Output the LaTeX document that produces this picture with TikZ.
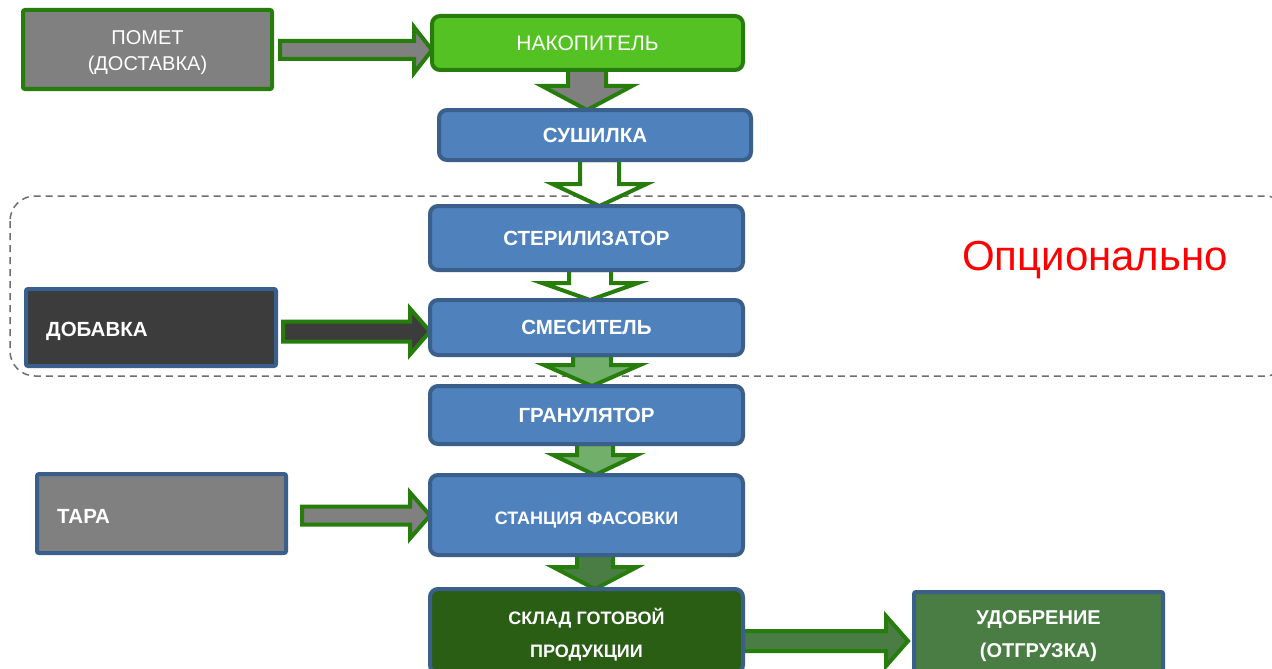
\documentclass[tikz,border=0pt]{standalone}
\usepackage{fontspec}
\setmainfont{Liberation Sans}
\usetikzlibrary{calc,backgrounds}
\definecolor{agreen}{HTML}{277D0B}
\definecolor{lgreen}{HTML}{55C223}
\definecolor{bfill}{HTML}{4F81BD}
\definecolor{bline}{HTML}{3A5F8B}
\definecolor{gfill}{HTML}{808080}
\definecolor{dfill}{HTML}{3C3C3C}
\definecolor{pgreen}{HTML}{72AF6B}
\definecolor{mgreen}{HTML}{4A7D44}
\definecolor{sgreen}{HTML}{2B5E15}
\definecolor{dgray}{HTML}{6E6E6E}
\tikzset{
  box/.style={draw=bline, line width=4pt, rounded corners=2pt, minimum width=249pt,
    inner sep=0pt, outer sep=0pt, text=white, align=center,
    font=\fontsize{20}{24}\selectfont\bfseries},
  proc/.style={box, fill=bfill, rounded corners=8pt, minimum width=313pt,
    font=\fontsize{20.5}{24}\selectfont\bfseries},
  lbl/.style={anchor=west, inner sep=0pt, text=white, font=\fontsize{20.5}{24}\selectfont\bfseries},
  blockarrow/.style={draw=agreen, line width=4pt, line join=miter},
  optframe/.style={draw=dgray, line width=1.5pt, dash pattern=on 7pt off 5pt, rounded corners=25pt}
}
% vertical block arrow: dx, from, to, fill, shaft half, head half, head length
\newcommand\varrow[7]{%
  \coordinate (vs) at ($(#2.south)+(#1,0)$);
  \coordinate (vt) at (vs |- #3.north);
  \draw[blockarrow,fill=#4] ($(vs)+(-#5,0)$) -- ($(vt)+(-#5,-#7)$) -- ($(vt)+(-#6,-#7)$)
    -- (vt) -- ($(vt)+(#6,-#7)$) -- ($(vt)+(#5,-#7)$) -- ($(vs)+(#5,0)$) -- cycle;}
% horizontal block arrow: start, target, fill, shaft half, head half, head length, gap
\newcommand\harrow[7]{%
  \coordinate (hs) at #1;
  \coordinate (ht) at ($(#2.west |- hs)+(-#7,0)$);
  \draw[blockarrow,fill=#3] ($(hs)+(0,-#4)$) -- ($(ht)+(-#6,-#4)$) -- ($(ht)+(-#6,-#5)$)
    -- (ht) -- ($(ht)+(-#6,#5)$) -- ($(ht)+(-#6,#4)$) -- ($(hs)+(0,#4)$) -- cycle;}
\newcommand\lowered[2]{\raisebox{-#1}[\height][\depth]{\parbox{220pt}{\centering #2}}}
\begin{document}
\begin{tikzpicture}[x=1pt,y=-1pt]
\useasboundingbox (0,0) rectangle (1272,669);

% nodes
\node[box, draw=agreen, fill=gfill, minimum height=79pt,
      font=\fontsize{20}{26}\selectfont] (pomet) at (147.5,49.5) {\lowered{3pt}{ПОМЕТ\\(ДОСТАВКА)}};
\node[proc, draw=agreen, fill=lgreen, minimum width=311pt, minimum height=54pt,
      font=\fontsize{21}{25}\selectfont] (nakop) at (587.5,43) {НАКОПИТЕЛЬ};
\node[proc, minimum width=312pt, minimum height=50pt] (sush) at (595,135) {СУШИЛКА};
\node[proc, minimum height=64pt] (steril) at (586.5,238) {СТЕРИЛИЗАТОР};
\node[proc, minimum height=55pt] (smes) at (586.5,327.5) {СМЕСИТЕЛЬ};
\node[proc, minimum height=58pt] (gran) at (586.5,415) {ГРАНУЛЯТОР};
\node[proc, minimum height=80pt, font=\fontsize{18}{22}\selectfont\bfseries] (stanc) at (586.5,515) {\lowered{5pt}{СТАНЦИЯ ФАСОВКИ}};
\node[proc, fill=sgreen, minimum height=84pt, font=\fontsize{18}{33}\selectfont\bfseries] (sklad) at (586.5,631) {\lowered{4pt}{СКЛАД ГОТОВОЙ\\ПРОДУКЦИИ}};
\node[box, fill=mgreen, minimum height=88pt, font=\fontsize{20}{33}\selectfont\bfseries] (udobr) at (1038.5,636) {УДОБРЕНИЕ\\(ОТГРУЗКА)};
\node[box, fill=dfill, minimum width=250pt, minimum height=77pt] (dobavka) at (151,327.5) {};
\node[lbl] (dobavkat) at ($(dobavka.west)+(20,4)$) {ДОБАВКА};
\node[box, fill=gfill, minimum height=79pt] (tara) at (161.5,513.5) {};
\node[lbl] (tarat) at ($(tara.west)+(20,2.5)$) {ТАРА};
\node[anchor=base, inner sep=0pt, text=red, font=\fontsize{42}{50}\selectfont] (opt) at (1095,270) {Опционально};

\begin{scope}[on background layer]
  \fill[white] (0,0) rectangle (1272,669);
  \draw[optframe] (10,196) rectangle (1290,376);
  \varrow{-0.5}{nakop}{sush}{gfill}{19}{45}{24}
  \varrow{4.5}{sush}{steril}{white}{19.5}{47}{22}
  \varrow{3.5}{steril}{smes}{white}{21}{48}{17}
  \varrow{5.5}{smes}{gran}{pgreen}{19}{48}{21}
  \varrow{8.5}{gran}{stanc}{pgreen}{18}{42}{20}
  \varrow{8.5}{stanc}{sklad}{mgreen}{18}{42}{22}
  \harrow{($(pomet.east)+(8,0.5)$)}{nakop}{gfill}{9}{23}{18}{0}
  \harrow{($(dobavka.east)+(7,4)$)}{smes}{dfill}{10}{23}{20}{0}
  \harrow{($(tara.east)+(16,2)$)}{stanc}{gfill}{9}{23}{20}{0}
  \harrow{($(sklad.east)+(0,10)$)}{udobr}{mgreen}{10}{25}{22}{6}
\end{scope}
\end{tikzpicture}
\end{document}
